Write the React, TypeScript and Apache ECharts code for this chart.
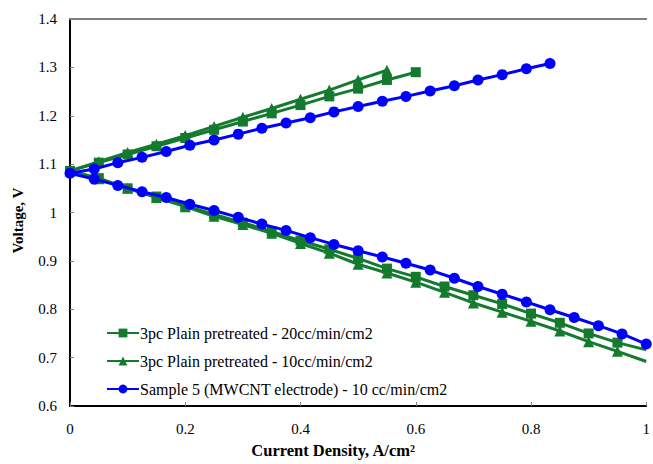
import React, { useEffect, useRef } from "react";
import * as echarts from "echarts";

// X positions (A/cm2)
const greenX = [0, 0.05, 0.1, 0.15, 0.2, 0.25, 0.3, 0.35, 0.4, 0.45, 0.5, 0.55, 0.6, 0.65, 0.7, 0.75, 0.8, 0.85, 0.9, 0.95, 1.0];
const blueX = [0, 0.042, 0.083, 0.125, 0.167, 0.208, 0.25, 0.292, 0.333, 0.375, 0.417, 0.458, 0.5, 0.542, 0.583, 0.625, 0.667, 0.708, 0.75, 0.792, 0.833, 0.875, 0.917, 0.958, 1.0];

// 3pc Plain pretreated - 20cc/min/cm2 (squares)
const sq20Charge = [1.086, 1.103, 1.12, 1.137, 1.154, 1.171, 1.188, 1.205, 1.222, 1.24, 1.256, 1.274, 1.29];
const sq20Discharge = [1.086, 1.071, 1.05, 1.033, 1.014, 0.996, 0.979, 0.961, 0.942, 0.924, 0.905, 0.884, 0.867, 0.847, 0.829, 0.811, 0.791, 0.772, 0.75, 0.731, 0.716];

// 3pc Plain pretreated - 10cc/min/cm2 (triangles)
const tri10Charge = [1.086, 1.105, 1.124, 1.141, 1.159, 1.178, 1.197, 1.215, 1.234, 1.253, 1.274, 1.294];
const tri10Discharge = [1.086, 1.07, 1.05, 1.031, 1.012, 0.992, 0.975, 0.957, 0.936, 0.916, 0.893, 0.875, 0.856, 0.835, 0.813, 0.794, 0.775, 0.755, 0.733, 0.713, 0.692];

// Sample 5 (MWCNT electrode) - 10 cc/min/cm2 (circles)
const blueCharge = [1.081, 1.09, 1.103, 1.114, 1.126, 1.139, 1.15, 1.162, 1.174, 1.185, 1.196, 1.208, 1.219, 1.23, 1.24, 1.251, 1.262, 1.274, 1.285, 1.297, 1.308];
const blueDischarge = [1.081, 1.069, 1.056, 1.043, 1.031, 1.017, 1.004, 0.99, 0.976, 0.963, 0.948, 0.934, 0.921, 0.908, 0.895, 0.881, 0.864, 0.847, 0.831, 0.815, 0.799, 0.783, 0.766, 0.749, 0.728];

const seriesNames = [
  "3pc Plain pretreated - 20cc/min/cm2",
  "3pc Plain pretreated - 10cc/min/cm2",
  "Sample 5 (MWCNT electrode) - 10 cc/min/cm2",
];

const xTicks = [0, 0.2, 0.4, 0.6, 0.8, 1];

const GREEN = "#137a2e";
const BLUE = "#0000ff";
const FONT = "Liberation Serif";

function build(xs: number[], charge: number[], discharge: number[], lastNoSymbol: boolean) {
  const up: any[] = charge.map((v, i) => [xs[i], v]).reverse();
  const down: any[] = discharge.map((v, i) => {
    const item: any = { value: [xs[i], v] };
    if (lastNoSymbol && i === discharge.length - 1) item.symbol = "none";
    return item;
  });
  return [...up, ...down.slice(1)];
}

export default function App() {
  const ref = useRef<HTMLDivElement>(null);
  useEffect(() => {
    if (!ref.current) return;
    const chart = echarts.init(ref.current, undefined, { renderer: "svg" });
    chart.setOption({
      animation: false,
      backgroundColor: "#fff",
      textStyle: { fontFamily: FONT, fontSize: 15, color: "#000" },
      grid: { left: 70, right: 2, top: 19, bottom: 54 },
      legend: {
        orient: "vertical",
        left: 101,
        top: 320,
        itemWidth: 32,
        itemHeight: 11,
        itemGap: 12,
        textStyle: { fontFamily: FONT, fontSize: 16, color: "#000", padding: [0, 0, 0, -4] },
        data: seriesNames,
      },
      xAxis: [
        {
          type: "value",
          min: 0,
          max: 1,
          interval: 0.2,
          name: "Current Density, A/cm²",
          nameLocation: "middle",
          nameGap: 36,
          nameTextStyle: {
            fontFamily: FONT,
            fontSize: 16.5,
            fontWeight: "bold",
            color: "#000",
            padding: [0, 50, 0, 0],
          },
          axisLine: { show: true, lineStyle: { color: "#000", width: 2 } },
          axisTick: { show: true, inside: true, length: 4, lineStyle: { color: "#808080" } },
          axisLabel: {
            fontFamily: FONT,
            fontSize: 15,
            color: "#000",
            margin: 15,
            formatter: (v: number) => (xTicks.includes(v) ? String(v) : ""),
          },
          splitLine: { show: false },
        },
        {
          type: "value",
          position: "top",
          min: 0,
          max: 1,
          interval: 0.2,
          axisLine: { show: true, lineStyle: { color: "#7f7f7f", width: 2 } },
          axisTick: { show: false },
          axisLabel: { show: false },
          splitLine: { show: false },
        },
      ],
      yAxis: [
        {
          type: "value",
          min: 0.6,
          max: 1.4,
          interval: 0.1,
          name: "Voltage, V",
          nameLocation: "middle",
          nameGap: 45,
          nameTextStyle: {
            fontFamily: FONT,
            fontSize: 15,
            fontWeight: "bold",
            color: "#000",
            padding: [0, 16, 0, 0],
          },
          axisLine: { show: true, lineStyle: { color: "#000", width: 2 } },
          axisTick: { show: true, inside: true, length: 4, lineStyle: { color: "#808080" } },
          axisLabel: {
            fontFamily: FONT,
            fontSize: 15,
            color: "#000",
            margin: 13,
            formatter: (v: number) => String(parseFloat(v.toFixed(1))),
          },
          splitLine: { show: false },
        },
        {
          type: "value",
          position: "right",
          min: 0.6,
          max: 1.4,
          interval: 0.1,
          axisLine: { show: true, lineStyle: { color: "#000", width: 1 } },
          axisTick: { show: false },
          axisLabel: { show: false },
          splitLine: { show: false },
        },
      ],
      series: [
        {
          name: seriesNames[0],
          type: "line",
          data: build(greenX, sq20Charge, sq20Discharge, true),
          symbol: "rect",
          symbolSize: 10,
          color: GREEN,
          lineStyle: { width: 3, color: GREEN },
          itemStyle: { color: GREEN },
          clip: true,
          z: 2,
        },
        {
          name: seriesNames[1],
          type: "line",
          data: build(greenX, tri10Charge, tri10Discharge, true),
          symbol: "triangle",
          symbolSize: 11,
          color: GREEN,
          lineStyle: { width: 3, color: GREEN },
          itemStyle: { color: GREEN },
          clip: true,
          z: 3,
        },
        {
          name: seriesNames[2],
          type: "line",
          data: build(blueX, blueCharge, blueDischarge, false),
          symbol: "circle",
          symbolSize: 11,
          color: BLUE,
          lineStyle: { width: 3, color: BLUE },
          itemStyle: { color: BLUE },
          clip: true,
          z: 4,
        },
      ],
    });
    return () => chart.dispose();
  }, []);
  return (
    <div
      ref={ref}
      style={{ position: "fixed", left: 0, top: 0, width: 653, height: 464, background: "#fff" }}
    />
  );
}
